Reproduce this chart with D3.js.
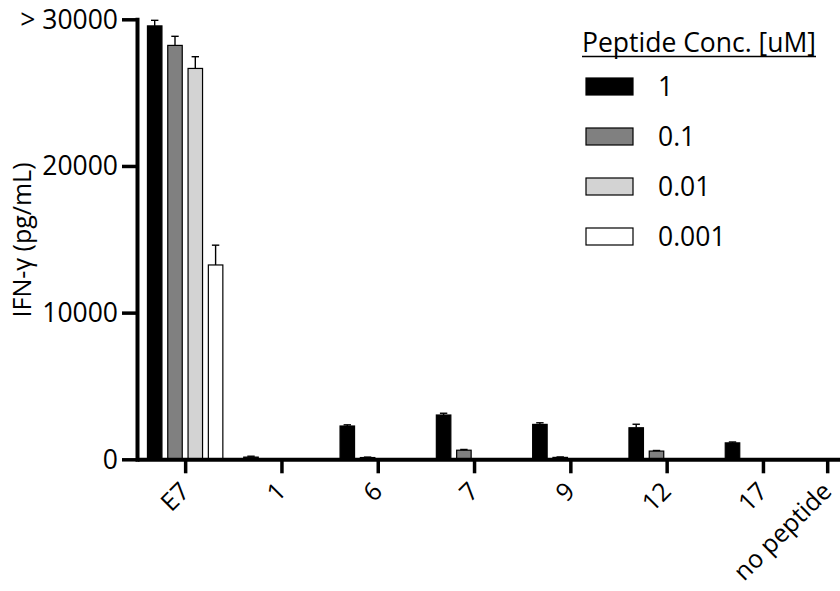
<!DOCTYPE html>
<html>
<head>
<meta charset="utf-8">
<script src="https://cdn.jsdelivr.net/npm/d3@7"></script>
<style>
  html, body { margin: 0; padding: 0; background: #ffffff; }
  svg { display: block; }
  text { font-family: "Open Sans", "Noto Sans", sans-serif; fill: #000; }
</style>
</head>
<body>
<svg id="chart" width="840" height="591"></svg>
<script>
// ---- data ----
const categories = ["E7", "1", "6", "7", "9", "12", "17", "no peptide"];
const seriesNames = ["1", "0.1", "0.01", "0.001"];
const legendTitle = "Peptide Conc. [uM]";
const yTickValues = [0, 10000, 20000, 30000];
const yTickLabels = ["0", "10000", "20000", "> 30000"];
const yAxisTitle = "IFN-\u03B3 (pg/mL)";

// mean values per series (one value per category)
const conc1     = [29550, 150, 2270, 3020, 2380, 2150, 1120, 0];
const conc01    = [28220, 0, 120, 620, 130, 560, 0, 0];
const conc001   = [26650, 0, 0, 0, 0, 0, 0, 0];
const conc0001  = [13250, 0, 0, 0, 0, 0, 0, 0];
// error (upper) per series
const err1      = [380, 60, 80, 120, 110, 240, 60, 0];
const err01     = [620, 0, 30, 50, 30, 40, 0, 0];
const err001    = [800, 0, 0, 0, 0, 0, 0, 0];
const err0001   = [1350, 0, 0, 0, 0, 0, 0, 0];

const seriesValues = [conc1, conc01, conc001, conc0001];
const seriesErrors = [err1, err01, err001, err0001];
const seriesColors = ["#000000", "#808080", "#d3d3d3", "#ffffff"];

// ---- layout ----
const svg = d3.select("#chart");
const axisX = 137, axisY = 459.3;
const FS = "26.5px";

const y = d3.scaleLinear().domain([0, 30000]).range([axisY, 19.3]);

// group slot index (last group sits closer, as in the original)
const slotOf = c => {
  const i = categories.indexOf(c);
  return i < 7 ? i : 6.667;
};
const groupStep = 96.3;
const xLin = d3.scaleLinear().domain([-0.5, 7.5]).range([axisX, axisX + groupStep * 8]);
const xGroup = c => xLin(slotOf(c));
const xInner = d3.scaleBand().domain(seriesNames)
  .range([-groupStep * 0.4216, groupStep * 0.4216])
  .paddingInner(0.286).paddingOuter(0.143);

// ---- bars ----
const barData = [];
seriesNames.forEach((s, si) => {
  categories.forEach((c, ci) => {
    barData.push({ s, si, c, v: seriesValues[si][ci], e: seriesErrors[si][ci] });
  });
});

const gBars = svg.append("g");
gBars.selectAll("rect")
  .data(barData.filter(d => d.v > 0))
  .join("rect")
  .attr("x", d => xGroup(d.c) + xInner(d.s))
  .attr("y", d => y(d.v))
  .attr("width", xInner.bandwidth())
  .attr("height", d => y(0) - y(d.v))
  .attr("fill", d => seriesColors[d.si])
  .attr("stroke", "#000")
  .attr("stroke-width", 1.2);

// error bars (upper only)
const errData = barData.filter(d => d.v > 0 && d.e > 0);
const gErr = svg.append("g").attr("stroke", "#000").attr("stroke-width", 1.4);
const cx = d => xGroup(d.c) + xInner(d.s) + xInner.bandwidth() / 2;
gErr.selectAll("line.v")
  .data(errData)
  .join("line")
  .attr("class", "v")
  .attr("x1", cx).attr("x2", cx)
  .attr("y1", d => y(d.v))
  .attr("y2", d => y(d.v + d.e));
gErr.selectAll("line.c")
  .data(errData)
  .join("line")
  .attr("class", "c")
  .attr("x1", d => cx(d) - 3.7)
  .attr("x2", d => cx(d) + 3.7)
  .attr("y1", d => y(d.v + d.e))
  .attr("y2", d => y(d.v + d.e));

// ---- y axis ----
const yAxis = d3.axisLeft(y)
  .tickValues(yTickValues)
  .tickFormat((d, i) => yTickLabels[i])
  .tickSize(15)
  .tickSizeOuter(0)
  .tickPadding(4);
const gy = svg.append("g").attr("transform", `translate(${axisX},0)`).call(yAxis);
gy.select(".domain").attr("stroke", "#000").attr("stroke-width", 4).attr("stroke-linecap", "square");
gy.selectAll(".tick line").attr("stroke", "#000").attr("stroke-width", 3.5);
gy.selectAll(".tick text")
  .style("font-family", '"Open Sans", sans-serif')
  .style("font-size", FS)
  .attr("dy", "0.34em")
  .attr("fill", "#000");

// ---- x axis ----
const xAxis = d3.axisBottom(xLin)
  .tickValues(categories.map(slotOf))
  .tickFormat(() => "")
  .tickSize(14)
  .tickSizeOuter(0);
const gx = svg.append("g").attr("transform", `translate(0,${axisY})`).call(xAxis);
gx.select(".domain").attr("stroke", "#000").attr("stroke-width", 4);
gx.selectAll(".tick line").attr("stroke", "#000").attr("stroke-width", 3.5);
gx.selectAll(".tick text").remove();

// rotated category labels
const gLab = svg.append("g");
gLab.selectAll("g")
  .data(categories)
  .join("g")
  .attr("transform", d => `translate(${xGroup(d) + 6},${axisY + 33.5})`)
  .append("text")
  .attr("transform", "rotate(-45)")
  .attr("text-anchor", "end")
  .style("font-size", "25px")
  .text(d => d);

// ---- y axis title ----
svg.append("text")
  .attr("transform", `translate(31,240) rotate(-90)`)
  .attr("text-anchor", "middle")
  .style("font-size", "25px")
  .text(yAxisTitle);

// ---- legend ----
const legend = svg.append("g");
const title = legend.append("text")
  .attr("x", 582).attr("y", 52)
  .style("font-size", FS)
  .text(legendTitle);
const tLen = title.node().getComputedTextLength();
legend.append("line")
  .attr("x1", 582).attr("x2", 582 + tLen)
  .attr("y1", 56.5).attr("y2", 56.5)
  .attr("stroke", "#000").attr("stroke-width", 1.4);

const legendY = d3.scalePoint().domain(seriesNames).range([86.5, 236.5]);
const items = legend.selectAll("g.item")
  .data(seriesNames)
  .join("g")
  .attr("class", "item")
  .attr("transform", d => `translate(0,${legendY(d)})`);
items.append("rect")
  .attr("x", 586).attr("y", -8.5)
  .attr("width", 47).attr("height", 17)
  .attr("fill", (d, i) => seriesColors[i])
  .attr("stroke", "#000").attr("stroke-width", 1.2);
items.append("text")
  .attr("x", 658).attr("y", 9.5)
  .style("font-size", FS)
  .text(d => d);
</script>
</body>
</html>
